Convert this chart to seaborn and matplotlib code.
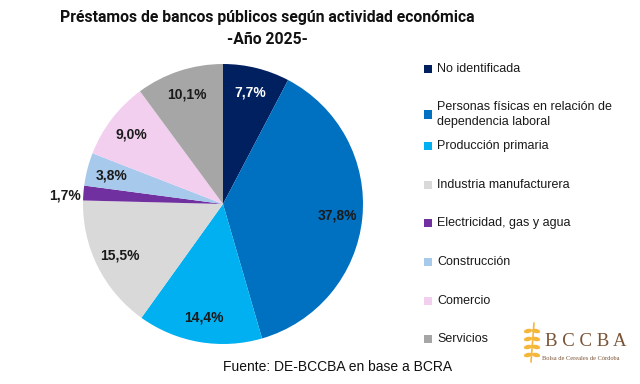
import matplotlib
matplotlib.use("Agg")
import matplotlib.pyplot as plt
import matplotlib.patches as mpatches
import numpy as np
import seaborn as sns

# Data
categories = ["No identificada",
              "Personas físicas en relación de\ndependencia laboral",
              "Producción primaria",
              "Industria manufacturera",
              "Electricidad, gas y agua",
              "Construcción",
              "Comercio",
              "Servicios"]
shares = [7.7, 37.8, 14.4, 15.5, 1.7, 3.8, 9.0, 10.1]
colors = ["#002060", "#0070C0", "#00B0F0", "#D9D9D9",
          "#7030A0", "#A6C9EC", "#F2CEEF", "#A6A6A6"]

title = "Préstamos de bancos públicos según actividad económica\n-Año 2025-"
source = "Fuente: DE-BCCBA en base a BCRA"

sns.set_theme(style="white")
plt.rcParams["font.family"] = ["Liberation Sans", "DejaVu Sans"]

fig = plt.figure(figsize=(6.4, 3.84), dpi=100)
fig.patch.set_facecolor("white")

# pie axes: centre ~ (223, 204) px, radius ~140 px
W, H = 640, 384
cx, cy, r = 223, 204, 140
ax = fig.add_axes([(cx - r) / W, (H - cy - r) / H, 2 * r / W, 2 * r / H])

wedges, texts, autotexts = ax.pie(
    shares, colors=colors, startangle=90, counterclock=False,
    autopct=lambda p: f"{p:.1f}".replace(".", ",") + "%",
    pctdistance=0.82, wedgeprops=dict(linewidth=0),
    textprops=dict(fontsize=10, fontweight="bold", color="#1a1a1a"))
ax.set_xlim(-1, 1)
ax.set_ylim(-1, 1)
ax.axis("off")

autotexts[0].set_color("white")
# small slice label goes outside
w = wedges[4]
ang = np.deg2rad((w.theta1 + w.theta2) / 2)
autotexts[4].set_position((1.13 * np.cos(ang), 1.13 * np.sin(ang) - 0.03))
autotexts[4].set_ha("center")

# title
fig.text(267 / W, 0.925, title, ha="center", va="center", fontsize=11.3,
         fontweight="bold", family=["Liberation Sans Narrow", "Roboto", "DejaVu Sans"],
         linespacing=1.6, color="#111111")

# legend drawn by hand to keep Excel-like spacing
leg_y = [69, 114.5, 146, 185, 223, 262, 301, 339]
for lab, col, y in zip(categories, colors, leg_y):
    fig.patches.append(mpatches.Rectangle(((428 - 4) / W, (H - y - 4) / H), 8 / W, 8 / H,
                                          transform=fig.transFigure, facecolor=col,
                                          edgecolor="none"))
    fig.text(437 / W, (H - y) / H, lab, ha="left", va="center", fontsize=9,
             color="#1a1a1a", linespacing=1.35)

# source
fig.text(338 / W, (H - 367) / H, source, ha="center", va="center", fontsize=10,
         color="#111111")

# logo
fig.text(586 / W, (H - 342) / H, "B C C B A", ha="center", va="center",
         fontsize=13.5, family="Liberation Serif", color="#7a5234")
fig.text(581 / W, (H - 359) / H, "Bolsa de Cereales de Córdoba", ha="center",
         va="center", fontsize=4.6, family="Liberation Serif", color="#7a5234")
gold = "#F4B73A"
fig.lines.append(plt.Line2D([531 / W, 534 / W], [(H - 362) / H, (H - 323) / H],
                            transform=fig.transFigure, color=gold, lw=1.2))
for k in range(4):
    yy = H - 355 + k * 8
    for side in (-1, 1):
        e = mpatches.Ellipse(((532 + side * 4) / W, yy / H), 9 / W, 4 / H,
                             angle=side * -35, transform=fig.transFigure,
                             facecolor=gold, edgecolor="none")
        fig.patches.append(e)

fig.savefig("out.png", dpi=100, facecolor="white")
